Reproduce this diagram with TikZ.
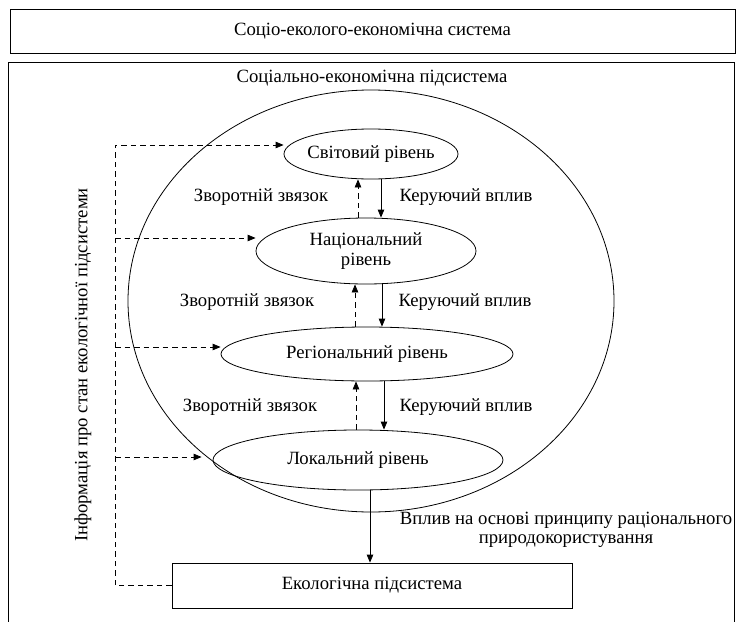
\documentclass[tikz,border=0pt]{standalone}
\usepackage{fontspec}
\setmainfont{Liberation Serif}
\usetikzlibrary{shapes.geometric,arrows.meta}
\begin{document}
\begin{tikzpicture}[x=1pt,y=-1pt,font=\fontsize{18.7}{19.5}\selectfont,line width=0.8pt,
    tip/.style={-{Triangle[length=8pt,width=6.5pt]}},
    fb/.style={tip,dash pattern=on 5.5pt off 4pt}]
                \useasboundingbox (0,0) rectangle (736,621);
                \begin{scope}[every node/.style={draw,inner sep=0pt},
                    lvl/.style={ellipse,inner xsep=-12pt,inner ysep=0pt}]
                    \node[minimum width=725pt,minimum height=44pt] (ses) at (372.5,31) {\raisebox{2pt}{Соціо-еколого-економічна система}};
                    \node[minimum width=726pt,minimum height=562pt] (sub) at (371,343) {};
                    \node[lvl,minimum width=486pt,minimum height=422pt] (big) at (371,301) {};
                    \node[lvl,minimum width=174pt,minimum height=50pt] (world) at (371,154) {Світовий рівень};
                    \node[lvl,minimum width=220pt,minimum height=66pt,align=center] (nat) at (366,251) {Національний\\рівень};
                    \node[lvl,minimum width=292pt,minimum height=54pt] (reg) at (367,354) {Регіональний рівень};
                    \node[lvl,minimum width=290pt,minimum height=60pt] (loc) at (358,460) {Локальний рівень};
                    \node[minimum width=400pt,minimum height=45pt] (eco) at (372,585.5) {Екологічна підсистема};
                \end{scope}
                \begin{scope}[every node/.style={inner sep=0pt}]
                    \node (subt) at (372,78) {Соціально-економічна підсистема};
                    \node[rotate=90] (info) at (83,365) {Інформація про стан екологічної підсистеми};
                    \node (fb1) at (261,197) {Зворотній звязок};
                    \node (ctl1) at (466,197) {Керуючий вплив};
                    \node (fb2) at (247,302) {Зворотній звязок};
                    \node (ctl2) at (465,302) {Керуючий вплив};
                    \node (fb3) at (250,407) {Зворотній звязок};
                    \node (ctl3) at (466,407) {Керуючий вплив};
                    \node[align=center] (rat) at (566,530) {Вплив на основі принципу раціонального\\природокористування};
                \end{scope}
                \coordinate (bus) at (115,0);
                % keruiuchyi vplyv / zvorotnii zviazok
                \draw[tip] ([xshift=10pt]world.south) -- ([xshift=10pt]world.south |- nat.north);
                \draw[fb] ([xshift=-13pt]world.south |- nat.north) -- ([xshift=-13pt]world.south);
                \draw[tip] ([xshift=16pt]nat.south) -- ([xshift=16pt]nat.south |- reg.north);
                \draw[fb] ([xshift=-11pt]nat.south |- reg.north) -- ([xshift=-11pt]nat.south);
                \draw[tip] ([xshift=17pt]reg.south) -- ([xshift=17pt]reg.south |- loc.north);
                \draw[fb] ([xshift=-11pt]reg.south |- loc.north) -- ([xshift=-11pt]reg.south);
                \draw[tip] ([xshift=12pt]loc.south) -- ([xshift=12pt]loc.south |- eco.north);
                % informatsiia
                \draw[fb] (eco.west) -- (eco.west -| bus) |- ([yshift=9pt]world.west);
                \draw[fb] ([yshift=13pt]nat.west -| bus) -- ([yshift=13pt]nat.west);
                \draw[fb] ([yshift=7pt]reg.west -| bus) -- ([yshift=7pt]reg.west);
                \draw[fb] ([yshift=3pt]loc.west -| bus) -- ([shift={(-11pt,3pt)}]loc.west);
            \end{tikzpicture}
\end{document}
